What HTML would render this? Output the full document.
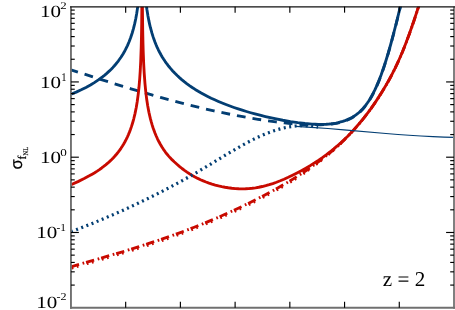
<!DOCTYPE html>
<html><head><meta charset="utf-8"><title>sigma fNL, z = 2</title>
<style>
html,body{margin:0;padding:0;background:#fff;}
body{width:455px;height:310px;overflow:hidden;font-family:"Liberation Serif",serif;}
svg{display:block;will-change:transform;filter:blur(0.45px);}
svg text{font-family:"Liberation Serif",serif;fill:#000;text-rendering:geometricPrecision;}
</style></head>
<body>
<svg width="455" height="310" viewBox="0 0 455 310">
<rect x="0" y="0" width="455" height="310" fill="#fff"/>
<defs><clipPath id="box"><rect x="70.95" y="6.65" width="383.05" height="301.10"/></clipPath></defs>
<g clip-path="url(#box)" fill="none" stroke-linejoin="round">
<path d="M70.95,69.79 L97.45,78.36 L109.45,82.15 L120.45,85.57 L130.95,88.77 L140.95,91.76 L150.95,94.66 L160.45,97.36 L169.95,99.97 L178.95,102.36 L187.95,104.68 L196.95,106.91 L205.45,108.93 L213.95,110.86 L222.45,112.7 L230.45,114.34 L239.95,116.18 L248.95,117.8 L257.95,119.29 L266.95,120.65 L275.95,121.88 L284.45,122.91 L292.95,123.81 L301.45,124.58 L304.45,124.81 L305.95,124.86 L307.95,124.82 L313.95,124.59 L320.5,124.72 L325,124.64 L328.25,124.44 L331.5,124.1 L334.5,123.66 L337.5,123.07 L340.5,122.33 L343.5,121.42 L346.5,120.33 L349.25,119.16 L351.75,117.9 L354,116.58 L356.25,115.05 L358.25,113.48 L360.25,111.71 L362.25,109.69 L364.25,107.43 L366,105.22 L368,102.41 L369.75,99.7 L371.5,96.73 L373.25,93.49 L375,89.96 L376.75,86.14 L378.25,82.61 L380,78.2 L381.75,73.48 L383.5,68.45 L385.25,63.14 L387,57.54 L388.75,51.66 L390.5,45.51 L394,32.46 L397.75,17.59 L403,-4.12" stroke="#033e73" stroke-width="2.85" stroke-dasharray="8.8 7" stroke-dashoffset="1.5"/>
<path d="M70.95,94.28 L76.2,92.09 L81.2,89.81 L85.95,87.42 L90.45,84.94 L94.7,82.36 L98.7,79.68 L102.45,76.92 L104.45,75.33 L106.2,73.86 L109.45,70.92 L111.2,69.2 L112.7,67.65 L114.2,66.01 L115.7,64.27 L117.2,62.43 L118.45,60.8 L120.95,57.27 L123.2,53.69 L124.45,51.52 L125.45,49.66 L127.45,45.57 L129.2,41.5 L130.7,37.53 L132.2,33 L133.45,28.66 L134.7,23.64 L135.7,18.96 L136.7,13.49 L137.7,6.9 L138.45,0.9 L139.2,-6.48 L139.7,-12.53 L140.2,-19.98 L140.7,-29.65 L140.95,-35.82 L141.2,-43.45 L141.45,-53.43 L141.7,-60 L142.7,-60 L143.2,-40.11 L143.7,-27.36 L143.95,-22.46 L144.45,-14.43 L145.2,-5.18 L145.95,2.03 L146.95,9.7 L147.95,15.92 L148.95,21.16 L149.7,24.6 L150.45,27.72 L151.95,33.2 L152.95,36.41 L153.95,39.34 L154.95,42.03 L155.95,44.52 L156.95,46.83 L158.2,49.52 L159.45,52.01 L160.95,54.77 L162.2,56.91 L163.7,59.31 L165.2,61.55 L166.95,63.99 L168.7,66.26 L170.7,68.68 L172.7,70.95 L174.95,73.32 L177.2,75.54 L179.45,77.62 L181.7,79.58 L184.2,81.63 L186.7,83.57 L189.45,85.57 L192.2,87.46 L195.2,89.41 L198.2,91.24 L201.2,92.98 L204.45,94.76 L207.7,96.45 L211.2,98.18 L214.7,99.81 L218.45,101.47 L222.2,103.04 L225.95,104.53 L229.95,106.04 L233.95,107.47 L238.2,108.92 L242.2,110.21 L246.45,111.51 L250.7,112.75 L254.95,113.91 L259.95,115.2 L265.45,116.55 L270.25,117.67 L275,118.72 L282.75,120.26 L290.5,121.6 L297.75,122.64 L305,123.47 L312,124.05 L315.25,124.23 L318.25,124.34 L321,124.37 L323.75,124.33 L326.25,124.23 L328.75,124.05 L331.25,123.78 L333.5,123.47 L336,123.03 L338.25,122.55 L340.5,121.98 L342.75,121.32 L345,120.55 L347,119.78 L349,118.93 L350.75,118.08 L352.5,117.13 L354.25,116.07 L356,114.88 L357.5,113.74 L359,112.49 L360.5,111.12 L362,109.61 L363.25,108.24 L364.75,106.47 L366,104.87 L367.5,102.79 L368.75,100.93 L370,98.94 L371.25,96.82 L372.5,94.56 L373.75,92.16 L375,89.61 L376.25,86.91 L378.5,81.65 L381,75.19 L383.25,68.84 L385.75,61.22 L388.25,53.01 L390.75,44.25 L393.25,34.98 L396,24.27 L399,12.13 L403,-4.47" stroke="#033e73" stroke-width="2.85"/>
<path d="M70.95,266.8 L99.7,258.54 L119.95,252.55 L129.45,249.65 L138.2,246.91 L146.7,244.18 L154.95,241.46 L163.2,238.66 L171.2,235.85 L178.95,233.05 L186.7,230.15 L194.2,227.25 L201.7,224.26 L209.2,221.17 L216.45,218.08 L224.45,214.57 L232.45,210.95 L240.45,207.2 L248.2,203.45 L256.2,199.46 L263.95,195.46 L271.2,191.61 L278.2,187.74 L284.45,184.16 L290.7,180.44 L296.45,176.88 L302.2,173.17 L307.7,169.47 L313.2,165.63 L318.7,161.61 L323.95,157.61 L328.7,153.85 L333.45,149.94 L336.7,147.15 L339.7,144.4 L343.7,140.49 L350.25,133.74 L353.75,130 L357,126.36 L360.5,122.24 L364,117.91 L367.5,113.37 L370.75,108.95 L374.25,103.96 L377.5,99.11 L380.75,94.04 L384,88.74 L386.75,84.07 L389.5,79.19 L392,74.52 L394.25,70.1 L396.5,65.45 L398.5,61.1 L400.75,55.97 L403,50.58 L405.25,44.94 L407.5,39.04 L409.75,32.9 L412,26.52 L414.5,19.18 L417,11.64 L423,-7.05" stroke="#c80a00" stroke-width="2.85" stroke-dasharray="8.4 3.7 1.7 1.9"/>
<path d="M70.95,268.5 L99.2,260.38 L119.2,254.47 L128.7,251.58 L137.45,248.85 L145.95,246.13 L153.95,243.49 L161.95,240.79 L169.95,238 L177.7,235.21 L185.2,232.42 L192.7,229.54 L199.95,226.66 L207.2,223.7 L214.45,220.64 L222.45,217.16 L230.45,213.56 L238.45,209.85 L246.2,206.13 L254.2,202.17 L262.2,198.08 L269.45,194.25 L276.45,190.42 L282.7,186.88 L288.7,183.35 L294.45,179.83 L299.95,176.34 L304.95,172.87 L309.7,169.46 L314.45,165.94 L319.2,162.28 L324.2,158.3 L328.95,154.36 L334.2,149.85 L337.7,146.67 L340.7,143.76 L343.95,140.44 L352.25,131.63 L355.5,128.06 L359,124.03 L362.5,119.79 L366,115.34 L369.25,111.01 L372.75,106.13 L376,101.37 L379.25,96.4 L382.5,91.21 L385.5,86.22 L388.25,81.44 L390.75,76.88 L393.25,72.09 L395.75,67.03 L398,62.21 L400.25,57.13 L402.5,51.8 L404.75,46.21 L407,40.38 L409.25,34.29 L411.75,27.24 L414.25,19.93 L416.75,12.4 L423,-7.05" stroke="#c80a00" stroke-width="2.4" stroke-dasharray="1.7 3.6 1.7 8.7" stroke-dashoffset="-0.8"/>
<path d="M70.95,184.77 L77.95,181.6 L84.2,178.55 L89.7,175.61 L92.2,174.18 L94.7,172.68 L97.2,171.09 L99.45,169.58 L101.7,167.98 L103.7,166.47 L105.7,164.88 L107.7,163.2 L109.7,161.4 L111.45,159.72 L113.2,157.94 L114.95,156.03 L116.7,153.99 L118.2,152.12 L119.7,150.11 L120.95,148.33 L122.45,146.04 L123.7,143.98 L124.95,141.77 L126.2,139.38 L127.45,136.79 L128.45,134.55 L129.45,132.13 L130.45,129.51 L131.45,126.64 L132.2,124.3 L132.95,121.78 L133.7,119.04 L134.95,113.86 L136.2,107.69 L137.2,101.71 L138.2,94.37 L138.95,87.52 L139.7,78.81 L140.2,71.37 L140.7,61.7 L141.2,47.89 L141.45,37.91 L141.7,23.48 L141.95,-3.03 L142.2,-48.34 L142.45,10.24 L142.7,30.06 L142.95,42.32 L143.2,51.21 L143.7,63.96 L144.2,73.11 L144.95,83.31 L145.7,91.09 L146.2,95.4 L146.7,99.21 L147.7,105.72 L148.2,108.54 L148.95,112.37 L149.7,115.79 L150.45,118.89 L151.2,121.71 L152.2,125.13 L152.95,127.48 L153.95,130.36 L154.95,133 L156.2,136.02 L157.45,138.77 L158.95,141.78 L160.45,144.52 L161.95,147.02 L163.45,149.33 L165.2,151.8 L166.7,153.76 L168.45,155.87 L170.2,157.83 L171.95,159.64 L174.2,161.79 L176.95,164.26 L179.95,166.85 L182,168.49 L184.5,170.37 L187,172.12 L189.5,173.76 L192.25,175.44 L195,176.98 L197.75,178.41 L200.5,179.72 L203.25,180.92 L206,182.02 L209,183.11 L212,184.09 L215.25,185.03 L218.5,185.87 L221.75,186.61 L225,187.25 L228.25,187.78 L231.75,188.23 L235.25,188.55 L238.75,188.75 L242,188.81 L245.5,188.75 L248.75,188.56 L252.25,188.24 L255.5,187.8 L258.75,187.25 L262.25,186.51 L265.75,185.65 L269.25,184.66 L272.75,183.54 L276.5,182.22 L280.25,180.78 L284,179.22 L288.25,177.32 L292.5,175.28 L297,173 L301.75,170.46 L306.25,167.92 L310.5,165.4 L314.75,162.75 L318.75,160.12 L322.75,157.35 L326.5,154.61 L330.25,151.74 L333.75,148.92 L337.25,145.96 L340.75,142.85 L344.25,139.58 L347.5,136.4 L350.5,133.33 L353.5,130.12 L356.5,126.78 L359.5,123.29 L362.5,119.64 L365.25,116.17 L368,112.55 L370.75,108.8 L373.5,104.9 L376.25,100.85 L379,96.64 L381.75,92.28 L384.5,87.76 L387,83.49 L389.5,79.04 L391.75,74.85 L393.75,70.95 L395.5,67.4 L397.25,63.69 L399.25,59.27 L401,55.23 L402.75,51.04 L404.5,46.7 L406.5,41.54 L410,32.05 L413.75,21.26 L418,8.42 L423,-7.2" stroke="#c80a00" stroke-width="2.85"/>
<path d="M70.95,231.78 L81.95,227.55 L92.95,223.16 L103.95,218.6 L113.95,214.3 L124.95,209.4 L134.95,204.78 L144.95,199.99 L154.95,195.04 L163.95,190.43 L172.95,185.68 L181.95,180.79 L190.95,175.74 L197.95,171.7 L204.95,167.57 L224.95,155.44 L231.95,151.25 L237.95,147.75 L242.95,144.93 L248.95,141.7 L253.95,139.15 L258.95,136.76 L263.95,134.55 L267.95,132.93 L270.95,131.8 L274.95,130.42 L277.95,129.5 L281.95,128.4 L284.95,127.69 L288.95,126.91 L291.95,126.44 L295.95,125.98 L298.95,125.77 L301.95,125.68 L304.95,125.7 L308.95,125.93 L311.95,126.25 L314.95,126.7 L318,127.3" stroke="#033e73" stroke-width="3.2" stroke-dasharray="2.0 3.52"/>
<path d="M296,126.41 L311,127.31 L328,128.55 L344,129.86 L386,133.51 L398,134.47 L409,135.28 L421,136.05 L433,136.67 L444,137.1 L454,137.33" stroke="#033e73" stroke-width="1.15"/>
</g>
<g fill="none" stroke-linecap="butt">
<line x1="70.95" y1="6.65" x2="70.95" y2="308.70" stroke="#707070" stroke-width="1.9"/>
<line x1="454.00" y1="6.65" x2="454.00" y2="308.70" stroke="#808080" stroke-width="2.0"/>
<line x1="70.00" y1="307.75" x2="455.00" y2="307.75" stroke="#707070" stroke-width="1.9"/>
<line x1="70.00" y1="6.75" x2="455.00" y2="6.75" stroke="#111" stroke-width="1.25"/>
</g>
<g stroke="#000" stroke-width="1.15" fill="none">
<line x1="125.67" y1="307.75" x2="125.67" y2="301.75"/>
<line x1="125.67" y1="6.65" x2="125.67" y2="12.65"/>
<line x1="180.39" y1="307.75" x2="180.39" y2="301.75"/>
<line x1="180.39" y1="6.65" x2="180.39" y2="12.65"/>
<line x1="235.11" y1="307.75" x2="235.11" y2="301.75"/>
<line x1="235.11" y1="6.65" x2="235.11" y2="12.65"/>
<line x1="289.84" y1="307.75" x2="289.84" y2="301.75"/>
<line x1="289.84" y1="6.65" x2="289.84" y2="12.65"/>
<line x1="344.56" y1="307.75" x2="344.56" y2="301.75"/>
<line x1="344.56" y1="6.65" x2="344.56" y2="12.65"/>
<line x1="399.28" y1="307.75" x2="399.28" y2="301.75"/>
<line x1="399.28" y1="6.65" x2="399.28" y2="12.65"/>
<line x1="70.95" y1="285.09" x2="74.75" y2="285.09"/>
<line x1="454.00" y1="285.09" x2="450.20" y2="285.09"/>
<line x1="70.95" y1="271.83" x2="74.75" y2="271.83"/>
<line x1="454.00" y1="271.83" x2="450.20" y2="271.83"/>
<line x1="70.95" y1="262.43" x2="74.75" y2="262.43"/>
<line x1="454.00" y1="262.43" x2="450.20" y2="262.43"/>
<line x1="70.95" y1="255.14" x2="74.75" y2="255.14"/>
<line x1="454.00" y1="255.14" x2="450.20" y2="255.14"/>
<line x1="70.95" y1="249.17" x2="74.75" y2="249.17"/>
<line x1="454.00" y1="249.17" x2="450.20" y2="249.17"/>
<line x1="70.95" y1="244.14" x2="74.75" y2="244.14"/>
<line x1="454.00" y1="244.14" x2="450.20" y2="244.14"/>
<line x1="70.95" y1="239.77" x2="74.75" y2="239.77"/>
<line x1="454.00" y1="239.77" x2="450.20" y2="239.77"/>
<line x1="70.95" y1="235.92" x2="74.75" y2="235.92"/>
<line x1="454.00" y1="235.92" x2="450.20" y2="235.92"/>
<line x1="70.95" y1="232.48" x2="78.85" y2="232.48"/>
<line x1="454.00" y1="232.48" x2="446.10" y2="232.48"/>
<line x1="70.95" y1="209.81" x2="74.75" y2="209.81"/>
<line x1="454.00" y1="209.81" x2="450.20" y2="209.81"/>
<line x1="70.95" y1="196.56" x2="74.75" y2="196.56"/>
<line x1="454.00" y1="196.56" x2="450.20" y2="196.56"/>
<line x1="70.95" y1="187.15" x2="74.75" y2="187.15"/>
<line x1="454.00" y1="187.15" x2="450.20" y2="187.15"/>
<line x1="70.95" y1="179.86" x2="74.75" y2="179.86"/>
<line x1="454.00" y1="179.86" x2="450.20" y2="179.86"/>
<line x1="70.95" y1="173.90" x2="74.75" y2="173.90"/>
<line x1="454.00" y1="173.90" x2="450.20" y2="173.90"/>
<line x1="70.95" y1="168.86" x2="74.75" y2="168.86"/>
<line x1="454.00" y1="168.86" x2="450.20" y2="168.86"/>
<line x1="70.95" y1="164.49" x2="74.75" y2="164.49"/>
<line x1="454.00" y1="164.49" x2="450.20" y2="164.49"/>
<line x1="70.95" y1="160.64" x2="74.75" y2="160.64"/>
<line x1="454.00" y1="160.64" x2="450.20" y2="160.64"/>
<line x1="70.95" y1="157.20" x2="78.85" y2="157.20"/>
<line x1="454.00" y1="157.20" x2="446.10" y2="157.20"/>
<line x1="70.95" y1="134.54" x2="74.75" y2="134.54"/>
<line x1="454.00" y1="134.54" x2="450.20" y2="134.54"/>
<line x1="70.95" y1="121.28" x2="74.75" y2="121.28"/>
<line x1="454.00" y1="121.28" x2="450.20" y2="121.28"/>
<line x1="70.95" y1="111.88" x2="74.75" y2="111.88"/>
<line x1="454.00" y1="111.88" x2="450.20" y2="111.88"/>
<line x1="70.95" y1="104.59" x2="74.75" y2="104.59"/>
<line x1="454.00" y1="104.59" x2="450.20" y2="104.59"/>
<line x1="70.95" y1="98.62" x2="74.75" y2="98.62"/>
<line x1="454.00" y1="98.62" x2="450.20" y2="98.62"/>
<line x1="70.95" y1="93.59" x2="74.75" y2="93.59"/>
<line x1="454.00" y1="93.59" x2="450.20" y2="93.59"/>
<line x1="70.95" y1="89.22" x2="74.75" y2="89.22"/>
<line x1="454.00" y1="89.22" x2="450.20" y2="89.22"/>
<line x1="70.95" y1="85.37" x2="74.75" y2="85.37"/>
<line x1="454.00" y1="85.37" x2="450.20" y2="85.37"/>
<line x1="70.95" y1="81.93" x2="78.85" y2="81.93"/>
<line x1="454.00" y1="81.93" x2="446.10" y2="81.93"/>
<line x1="70.95" y1="59.26" x2="74.75" y2="59.26"/>
<line x1="454.00" y1="59.26" x2="450.20" y2="59.26"/>
<line x1="70.95" y1="46.01" x2="74.75" y2="46.01"/>
<line x1="454.00" y1="46.01" x2="450.20" y2="46.01"/>
<line x1="70.95" y1="36.60" x2="74.75" y2="36.60"/>
<line x1="454.00" y1="36.60" x2="450.20" y2="36.60"/>
<line x1="70.95" y1="29.31" x2="74.75" y2="29.31"/>
<line x1="454.00" y1="29.31" x2="450.20" y2="29.31"/>
<line x1="70.95" y1="23.35" x2="74.75" y2="23.35"/>
<line x1="454.00" y1="23.35" x2="450.20" y2="23.35"/>
<line x1="70.95" y1="18.31" x2="74.75" y2="18.31"/>
<line x1="454.00" y1="18.31" x2="450.20" y2="18.31"/>
<line x1="70.95" y1="13.94" x2="74.75" y2="13.94"/>
<line x1="454.00" y1="13.94" x2="450.20" y2="13.94"/>
<line x1="70.95" y1="10.09" x2="74.75" y2="10.09"/>
<line x1="454.00" y1="10.09" x2="450.20" y2="10.09"/>
</g>
<text x="40.01" y="17.00" font-size="17" textLength="21.03" lengthAdjust="spacingAndGlyphs">10</text>
<text x="60.22" y="8.50" font-size="10.3" textLength="6.44" lengthAdjust="spacingAndGlyphs">2</text>
<text x="40.01" y="87.80" font-size="17" textLength="21.03" lengthAdjust="spacingAndGlyphs">10</text>
<text x="61.14" y="80.80" font-size="11.6" textLength="5.34" lengthAdjust="spacingAndGlyphs">1</text>
<text x="40.11" y="162.80" font-size="17" textLength="21.03" lengthAdjust="spacingAndGlyphs">10</text>
<text x="60.38" y="155.50" font-size="10.5" textLength="6.56" lengthAdjust="spacingAndGlyphs">0</text>
<text x="36.31" y="237.80" font-size="17" textLength="21.03" lengthAdjust="spacingAndGlyphs">10</text>
<text x="56.60" y="230.80" font-size="10.8" textLength="9.45" lengthAdjust="spacingAndGlyphs">-1</text>
<text x="36.31" y="307.80" font-size="17" textLength="21.03" lengthAdjust="spacingAndGlyphs">10</text>
<text x="56.58" y="300.40" font-size="10.5" textLength="10.06" lengthAdjust="spacingAndGlyphs">-2</text>
<text x="382.8" y="285.6" font-size="21" textLength="42.4" lengthAdjust="spacingAndGlyphs">z = 2</text>
<g transform="translate(22.2,169.4) rotate(-90)"><text x="0" y="0" font-size="16.6" stroke="#000" stroke-width="0.25" style="font-family:'Liberation Sans',sans-serif">σ</text><text x="9.9" y="3.8" font-size="12" stroke="#000" stroke-width="0.2">f</text><text x="14.0" y="5.4" font-size="7" stroke="#000" stroke-width="0.2" textLength="8.6" lengthAdjust="spacingAndGlyphs">NL</text></g>
</svg>
</body></html>
